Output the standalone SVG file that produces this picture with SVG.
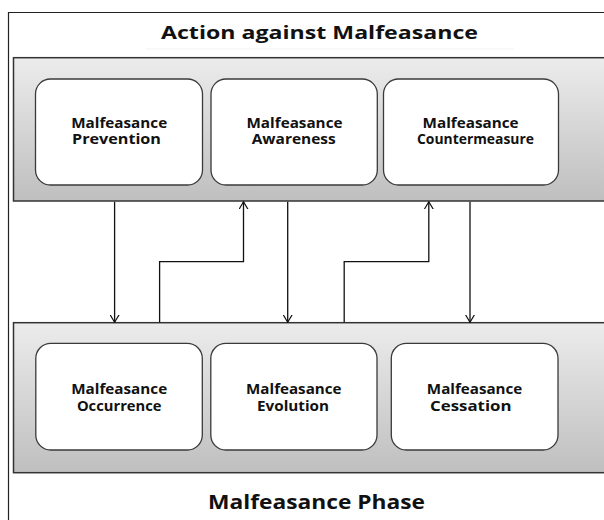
<svg xmlns="http://www.w3.org/2000/svg" width="604" height="520" viewBox="0 0 604 520">
<defs>
<style>
.frame{fill:none;stroke:#222;stroke-width:1.2}
.panel{fill:url(#pg);stroke:#333;stroke-width:1.5}
.box{fill:#fff;stroke:#3a3a3a;stroke-width:1.3}
.lbl{font-family:"Open Sans","DejaVu Sans",sans-serif;font-weight:bold;font-size:13.3px;fill:#111;text-anchor:middle}
.ttl{font-family:"Open Sans","DejaVu Sans",sans-serif;font-weight:bold;fill:#111;text-anchor:middle}
.con{fill:none;stroke:#111;stroke-width:1.3}
.faint{stroke:#f3f3f3;stroke-width:1}
</style>
<linearGradient id="pg" x1="0" y1="0" x2="0" y2="1">
<stop offset="0" stop-color="#ececec"/>
<stop offset="1" stop-color="#bfbfbf"/>
</linearGradient>
<marker id="ah" viewBox="0 -5 8 10" refX="7.5" refY="0" markerWidth="8" markerHeight="10" markerUnits="userSpaceOnUse" orient="auto">
<path d="M0,-4.5 L7.5,0 L0,4.5" fill="none" stroke="#111" stroke-width="1.2"/>
</marker>
</defs>
<rect width="604" height="520" fill="#fff"/>
<path class="frame" d="M8.5,520 V12.5 H604"/>
<g id="title-top">
<line class="faint" x1="146" y1="49" x2="514" y2="49"/>
<text class="ttl" x="319.5" y="39" font-size="17" textLength="317" lengthAdjust="spacingAndGlyphs">Action against Malfeasance</text>
</g>
<g id="panel-top">
<rect class="panel" x="13.5" y="57.7" width="600" height="143.3"/>
</g>
<g id="panel-bottom">
<rect class="panel" x="13.5" y="322.7" width="600" height="150"/>
</g>
<g id="node-prevention">
<rect class="box" x="35.5" y="79" width="167" height="106" rx="15"/>
<text class="lbl" x="119.2" y="127.8" textLength="96" lengthAdjust="spacingAndGlyphs">Malfeasance</text>
<text class="lbl" x="116.5" y="144.4" textLength="89" lengthAdjust="spacingAndGlyphs">Prevention</text>
</g>
<g id="node-awareness">
<rect class="box" x="211" y="79" width="166.3" height="106" rx="15"/>
<text class="lbl" x="294.5" y="127.8" textLength="96" lengthAdjust="spacingAndGlyphs">Malfeasance</text>
<text class="lbl" x="293.7" y="144.4" textLength="84" lengthAdjust="spacingAndGlyphs">Awareness</text>
</g>
<g id="node-countermeasure">
<rect class="box" x="383.5" y="79" width="175" height="106" rx="15"/>
<text class="lbl" x="470.6" y="127.8" textLength="96" lengthAdjust="spacingAndGlyphs">Malfeasance</text>
<text class="lbl" x="475.5" y="144.4" textLength="117" lengthAdjust="spacingAndGlyphs">Countermeasure</text>
</g>
<g id="node-occurrence">
<rect class="box" x="35.8" y="343.3" width="166.5" height="106.7" rx="15"/>
<text class="lbl" x="119.2" y="394" textLength="96" lengthAdjust="spacingAndGlyphs">Malfeasance</text>
<text class="lbl" x="119.2" y="410.6" textLength="84.6" lengthAdjust="spacingAndGlyphs">Occurrence</text>
</g>
<g id="node-evolution">
<rect class="box" x="210.8" y="343.3" width="166.2" height="106.7" rx="15"/>
<text class="lbl" x="293.8" y="394" textLength="95.5" lengthAdjust="spacingAndGlyphs">Malfeasance</text>
<text class="lbl" x="293" y="410.6" textLength="72" lengthAdjust="spacingAndGlyphs">Evolution</text>
</g>
<g id="node-cessation">
<rect class="box" x="391.3" y="343.3" width="166.7" height="106.7" rx="15"/>
<text class="lbl" x="474.6" y="394" textLength="95.5" lengthAdjust="spacingAndGlyphs">Malfeasance</text>
<text class="lbl" x="470.8" y="410.6" textLength="81.5" lengthAdjust="spacingAndGlyphs">Cessation</text>
</g>
<g id="connectors">
<path class="con" d="M114.6,201.8 V322.2" marker-end="url(#ah)"/>
<path class="con" d="M159.6,322.2 V261.7 H243.5 V201.8" marker-end="url(#ah)"/>
<path class="con" d="M287.7,201.8 V322.2" marker-end="url(#ah)"/>
<path class="con" d="M344.2,322.2 V261.7 H428.8 V201.8" marker-end="url(#ah)"/>
<path class="con" d="M470,201.8 V322.2" marker-end="url(#ah)"/>
</g>
<g id="title-bottom">
<text class="ttl" x="316.5" y="508.7" font-size="19.5" textLength="217" lengthAdjust="spacingAndGlyphs">Malfeasance Phase</text>
</g>
</svg>
